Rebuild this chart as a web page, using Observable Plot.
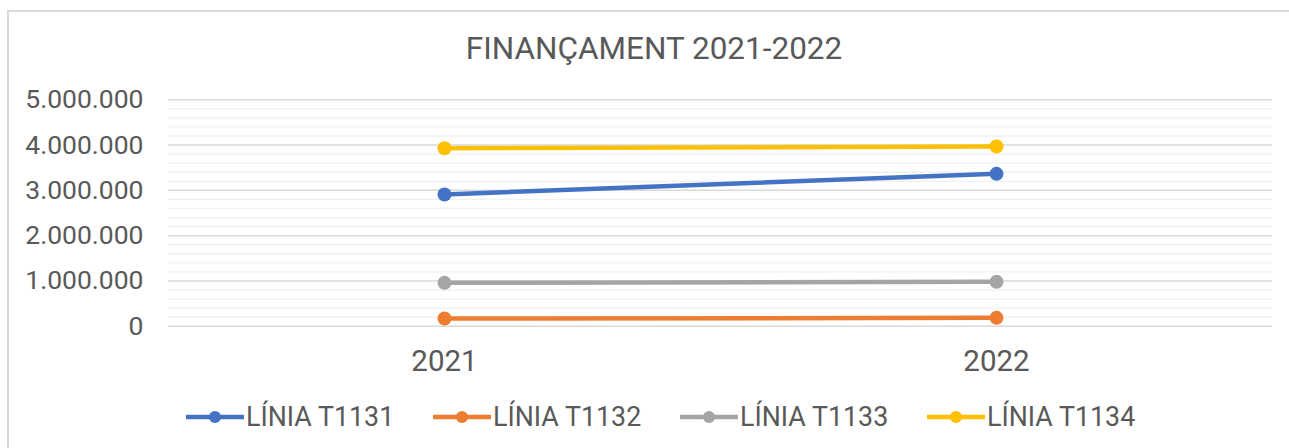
<!DOCTYPE html>
<html>
<head>
<meta charset="utf-8">
<script src="https://cdn.jsdelivr.net/npm/d3@7"></script>
<script src="https://cdn.jsdelivr.net/npm/@observablehq/plot@0.6"></script>
<style>
  html, body { margin: 0; padding: 0; background: #fff; }
  #wrap { position: relative; width: 1289px; height: 448px; overflow: hidden; font-family: Roboto, "Noto Sans", sans-serif; color: #595959; }
  #frame { position: absolute; left: 7px; top: 10px; right: -5px; bottom: -5px; border-top: 2px solid #d9d9d9; border-left: 2px solid #d9d9d9; }
  #title { position: absolute; left: 0; top: 33px; width: 1308px; text-align: center; font-size: 31.5px; line-height: 1; white-space: nowrap; }
  #chart { position: absolute; left: 0; top: 0; }
  #legend { position: absolute; left: 186px; top: 403.5px; display: flex; font-size: 26.8px; line-height: 1; }
  .item { display: flex; align-items: center; width: 247px; white-space: nowrap; }
  .item svg { margin-right: 2px; }
</style>
</head>
<body>
<div id="wrap">
  <div id="frame"></div>
  <div id="title">FINANÇAMENT 2021-2022</div>
  <div id="chart"></div>
  <div id="legend"></div>
</div>
<script>
// ---- data ----
const years = ["2021", "2022"];
const seriesNames = ["LÍNIA T1131", "LÍNIA T1132", "LÍNIA T1133", "LÍNIA T1134"];
const seriesColors = ["#4472C4", "#ED7D31", "#A5A5A5", "#FFC000"];
const t1131 = [2910000, 3365000];
const t1132 = [169000, 184000];
const t1133 = [957000, 979000];
const t1134 = [3930000, 3970000];
const majorTicks = [0, 1000000, 2000000, 3000000, 4000000, 5000000];
const minorTicks = d3.range(0, 5000001, 200000).filter(v => v % 1000000 !== 0);

const seriesValues = [t1131, t1132, t1133, t1134];
const data = [];
seriesNames.forEach((s, i) => years.forEach((y, j) => data.push({series: s, year: y, value: seriesValues[i][j]})));

const fmt = d3.formatLocale({decimal: ",", thousands: ".", grouping: [3], currency: ["", " €"]}).format(",d");

const chart = Plot.plot({
  width: 1289,
  height: 448,
  marginTop: 99.3,
  marginBottom: 122.3,
  marginLeft: 168,
  marginRight: 17,
  style: {fontFamily: "Roboto, 'Noto Sans', sans-serif", color: "#595959", background: "transparent"},
  x: {type: "point", domain: years, padding: 0.5, label: null, axis: null},
  y: {domain: [0, 5000000], label: null, axis: null},
  color: {domain: seriesNames, range: seriesColors},
  marks: [
    Plot.ruleY(minorTicks, {stroke: "#f0f0f0", strokeWidth: 1.3}),
    Plot.ruleY(majorTicks, {stroke: "#d9d9d9", strokeWidth: 1.5}),
    Plot.axisY(majorTicks, {tickSize: 0, tickPadding: 25, tickFormat: fmt, fontSize: 26.5, fill: "#595959", label: null}),
    Plot.axisX({tickSize: 0, tickPadding: 24, fontSize: 29.5, fill: "#595959", label: null}),
    Plot.line(data, {x: "year", y: "value", z: "series", stroke: "series", strokeWidth: 4.5}),
    Plot.dot(data, {x: "year", y: "value", fill: "series", r: 7})
  ]
});
document.getElementById("chart").appendChild(chart);

// legend
const legend = document.getElementById("legend");
seriesNames.forEach((s, i) => {
  const item = document.createElement("div");
  item.className = "item";
  item.innerHTML = `<svg width="58" height="16"><line x1="0" y1="8" x2="58" y2="8" stroke="${seriesColors[i]}" stroke-width="4.5"/><circle cx="29" cy="8" r="6" fill="${seriesColors[i]}"/></svg><span>${s}</span>`;
  legend.appendChild(item);
});
</script>
</body>
</html>
